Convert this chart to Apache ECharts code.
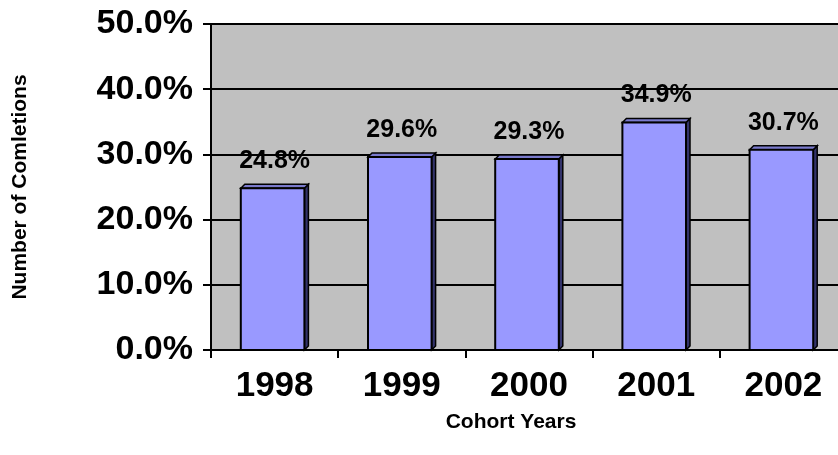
<!DOCTYPE html>
<html>
<head>
<meta charset="utf-8">
<script src="https://cdn.jsdelivr.net/npm/echarts@6/dist/echarts.min.js"></script>
<style>
  html, body { margin: 0; padding: 0; background: #fff; }
  #chart { width: 838px; height: 455px; }
</style>
</head>
<body>
<div id="chart"></div>
<script>
const years = ['1998', '1999', '2000', '2001', '2002']
const completions = [24.8, 29.6, 29.3, 34.9, 30.7]
const yTicks = { min: 0, max: 50, interval: 10 }

const font = '"Liberation Sans", Arial, sans-serif'
const chart = echarts.init(document.getElementById('chart'), null, { renderer: 'canvas' })

// fake 3D bar: front face, right side and top
function renderBar(params, api) {
  const idx = api.value(0)
  const val = api.value(1)
  const top = api.coord([idx, val])
  const base = api.coord([idx, 0])
  const w = api.size([1, 0])[0] * 0.5
  const d = 4
  const l = top[0] - w / 2 - 2
  const r = l + w
  const t = top[1]
  const b = base[1]
  return {
    type: 'group',
    children: [
      {
        type: 'polygon',
        shape: { points: [[r, t], [r + d, t - d], [r + d, b - d], [r, b]] },
        style: { fill: '#33336b', stroke: '#000', lineWidth: 1.5 }
      },
      {
        type: 'polygon',
        shape: { points: [[l, t], [l + d, t - d], [r + d, t - d], [r, t]] },
        style: { fill: '#7a7acc', stroke: '#000', lineWidth: 1.5 }
      },
      {
        type: 'rect',
        shape: { x: l, y: t, width: w, height: b - t },
        style: { fill: '#9999ff', stroke: '#000', lineWidth: 2 }
      },
      {
        type: 'text',
        style: {
          text: val.toFixed(1) + '%',
          x: top[0],
          y: t - 27,
          align: 'center',
          verticalAlign: 'middle',
          fontSize: 25,
          fontWeight: 'bold',
          fontFamily: font,
          fill: '#000'
        }
      }
    ]
  }
}

chart.setOption({
  animation: false,
  grid: {
    left: 211,
    top: 24,
    width: 636,
    bottom: 105,
    outerBoundsMode: 'none',
    containLabel: false,
    show: true,
    backgroundColor: '#c0c0c0',
    borderColor: '#808080',
    borderWidth: 2
  },
  xAxis: {
    type: 'category',
    data: years,
    boundaryGap: true,
    axisLine: { lineStyle: { color: '#000', width: 2 } },
    axisTick: { show: true, length: 8, lineStyle: { color: '#000', width: 2 } },
    axisLabel: {
      margin: 19,
      fontSize: 35,
      fontWeight: 'bold',
      fontFamily: font,
      color: '#000'
    },
    name: 'Cohort Years',
    nameLocation: 'middle',
    nameGap: 62,
    nameTextStyle: {
      fontSize: 21,
      fontWeight: 'bold',
      fontFamily: font,
      color: '#000',
      padding: [0, 36, 0, 0]
    }
  },
  yAxis: {
    type: 'value',
    min: yTicks.min,
    max: yTicks.max,
    interval: yTicks.interval,
    axisLine: { show: true, lineStyle: { color: '#000', width: 2 } },
    axisTick: { show: true, length: 8, lineStyle: { color: '#000', width: 2 } },
    splitLine: { show: true, lineStyle: { color: '#000', width: 2 } },
    axisLabel: {
      margin: 18,
      fontSize: 34,
      fontWeight: 'bold',
      fontFamily: font,
      color: '#000',
      formatter: v => v.toFixed(1) + '%'
    },
    name: 'Number of Comletions',
    nameLocation: 'middle',
    nameRotate: 90,
    nameGap: 180,
    nameTextStyle: { fontSize: 21, fontWeight: 'bold', fontFamily: font, color: '#000' }
  },
  series: [
    {
      type: 'custom',
      renderItem: renderBar,
      data: completions.map((v, i) => [i, v]),
      encode: { x: 0, y: 1 },
      clip: false
    }
  ]
})
</script>
</body>
</html>
